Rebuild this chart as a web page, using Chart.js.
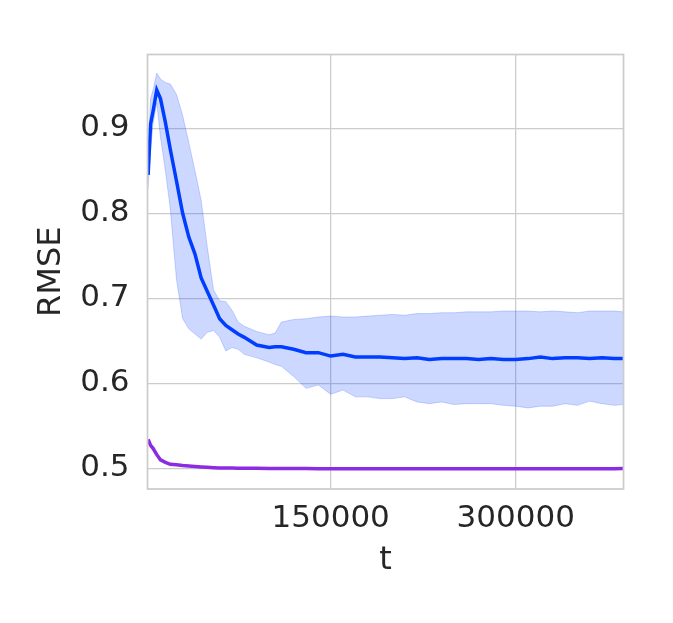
<!DOCTYPE html>
<html>
<head>
<meta charset="utf-8">
<script src="https://cdn.jsdelivr.net/npm/chart.js@4"></script>
<style>
    body { margin: 0; background: white; }
    #wrap { width: 673px; height: 623px; }
</style>
</head>
<body>
<div id="wrap"><canvas id="rmseChart" width="673" height="623"></canvas></div>
<script>
// training steps
var t = [2000, 4000, 6000, 9000, 12000, 16000, 20000, 25000, 30000, 35000, 40000, 45000,
    50000, 55000, 60000, 65000, 70000, 75000, 80000, 90000, 100000, 105000, 110000, 120000,
    130000, 140000, 150000, 160000, 170000, 180000, 190000, 200000, 210000, 220000, 230000,
    240000, 250000, 260000, 270000, 280000, 290000, 300000, 310000, 320000, 330000, 340000,
    350000, 360000, 370000, 380000, 387000];

var blueMean = [0.845, 0.905, 0.92, 0.945, 0.935, 0.907, 0.875, 0.838, 0.80, 0.772, 0.752, 0.724,
    0.708, 0.692, 0.676, 0.668, 0.663, 0.658, 0.654, 0.645, 0.642, 0.643, 0.643, 0.640,
    0.636, 0.636, 0.632, 0.634, 0.631, 0.631, 0.631, 0.630, 0.629, 0.630, 0.628,
    0.629, 0.629, 0.629, 0.628, 0.629, 0.628, 0.628, 0.629, 0.631, 0.629, 0.630,
    0.630, 0.629, 0.630, 0.629, 0.629];

var blueUpper = [0.87, 0.935, 0.945, 0.965, 0.958, 0.954, 0.952, 0.94, 0.915, 0.883, 0.85, 0.815,
    0.76, 0.71, 0.697, 0.696, 0.686, 0.672, 0.667, 0.661, 0.657, 0.659, 0.672, 0.675,
    0.676, 0.678, 0.679, 0.678, 0.678, 0.679, 0.680, 0.681, 0.680, 0.682, 0.682,
    0.683, 0.683, 0.684, 0.684, 0.684, 0.685, 0.685, 0.685, 0.684, 0.685, 0.684,
    0.683, 0.685, 0.685, 0.685, 0.684];

var blueLower = [0.83, 0.875, 0.905, 0.93, 0.89, 0.85, 0.805, 0.722, 0.676, 0.664, 0.658, 0.652,
    0.660, 0.662, 0.654, 0.638, 0.642, 0.640, 0.634, 0.630, 0.625, 0.622, 0.620, 0.608,
    0.594, 0.598, 0.587, 0.592, 0.584, 0.584, 0.582, 0.582, 0.584, 0.578, 0.576,
    0.578, 0.575, 0.576, 0.576, 0.576, 0.574, 0.573, 0.571, 0.573, 0.573, 0.576,
    0.574, 0.579, 0.576, 0.574, 0.575];

var purpleMean = [0.534, 0.527, 0.5235, 0.516, 0.510, 0.507, 0.5047, 0.504, 0.5032, 0.5027, 0.5022, 0.5016,
    0.5011, 0.5007, 0.5004, 0.5003, 0.5002, 0.5001, 0.5, 0.4999, 0.4998, 0.4998, 0.4997, 0.4996,
    0.4996, 0.4995, 0.4995, 0.4995, 0.4994, 0.4994, 0.4994, 0.4994, 0.4993, 0.4993, 0.4993,
    0.4993, 0.4993, 0.4993, 0.4993, 0.4993, 0.4993, 0.4993, 0.4993, 0.4993, 0.4993, 0.4993,
    0.4993, 0.4994, 0.4994, 0.4995, 0.4996];

var xTicks = [150000, 300000];
var yTicks = [0.5, 0.6, 0.7, 0.8, 0.9];

function pts(vals) {
    var out = [];
    for (let i = 0; i < t.length; i++) {
        out.push({ x: t[i], y: vals[i] });
    }
    return out;
}

var textColor = '#262626';
var gridColor = '#cccccc';
var fontFamily = "'DejaVu Sans', sans-serif";

// box around the plot area like the seaborn whitegrid frame
var frame = {
    id: 'frame',
    afterDatasetsDraw: function (chart) {
        var a = chart.chartArea;
        var ctx = chart.ctx;
        ctx.save();
        ctx.strokeStyle = gridColor;
        ctx.lineWidth = 1.75;
        ctx.strokeRect(a.left, a.top, a.right - a.left, a.bottom - a.top);
        ctx.restore();
    }
};

var ctx = document.getElementById('rmseChart').getContext('2d');
var rmseChart = new Chart(ctx, {
    type: 'line',
    data: {
        datasets: [
            {
                label: 'upper',
                data: pts(blueUpper),
                borderColor: 'rgba(2, 62, 255, 0.2)',
                backgroundColor: 'rgba(2, 62, 255, 0.2)',
                borderWidth: 1,
                pointRadius: 0,
                fill: '+1'
            },
            {
                label: 'lower',
                data: pts(blueLower),
                borderColor: 'rgba(2, 62, 255, 0.2)',
                borderWidth: 1,
                pointRadius: 0,
                fill: false
            },
            {
                label: 'blue',
                data: pts(blueMean),
                borderColor: '#023eff',
                borderWidth: 3.5,
                pointRadius: 0,
                fill: false
            },
            {
                label: 'purple',
                data: pts(purpleMean),
                borderColor: '#8b2be2',
                borderWidth: 3.5,
                pointRadius: 0,
                fill: false
            }
        ]
    },
    options: {
        responsive: false,
        animation: false,
        layout: {
            padding: { left: 0, right: 49.5, top: 54.5, bottom: 0 }
        },
        scales: {
            x: {
                type: 'linear',
                min: 1500,
                max: 387400,
                afterBuildTicks: function (scale) {
                    scale.ticks = xTicks.map(function (v) { return { value: v }; });
                },
                afterFit: function (scale) {
                    scale.height = 134;
                },
                ticks: {
                    color: textColor,
                    font: { family: fontFamily, size: 31 },
                    padding: 11,
                    maxRotation: 0,
                    callback: function (value) { return String(value); }
                },
                grid: { color: gridColor, lineWidth: 1.25, drawTicks: false },
                border: { display: false },
                title: {
                    display: true,
                    text: 't',
                    color: textColor,
                    font: { family: fontFamily, size: 32 },
                    padding: { top: 0, bottom: 43 }
                }
            },
            y: {
                type: 'linear',
                min: 0.4756,
                max: 0.9868,
                afterBuildTicks: function (scale) {
                    scale.ticks = yTicks.map(function (v) { return { value: v }; });
                },
                afterFit: function (scale) {
                    scale.width = 147.5;
                },
                ticks: {
                    color: textColor,
                    font: { family: fontFamily, size: 31 },
                    padding: 18,
                    callback: function (value) { return value.toFixed(1); }
                },
                grid: { color: gridColor, lineWidth: 1.25, drawTicks: false },
                border: { display: false },
                title: {
                    display: true,
                    text: 'RMSE',
                    color: textColor,
                    font: { family: fontFamily, size: 32 },
                    padding: { top: 32, bottom: 0 }
                }
            }
        },
        plugins: {
            legend: { display: false },
            tooltip: { enabled: false }
        }
    },
    plugins: [frame]
});
</script>
</body>
</html>
